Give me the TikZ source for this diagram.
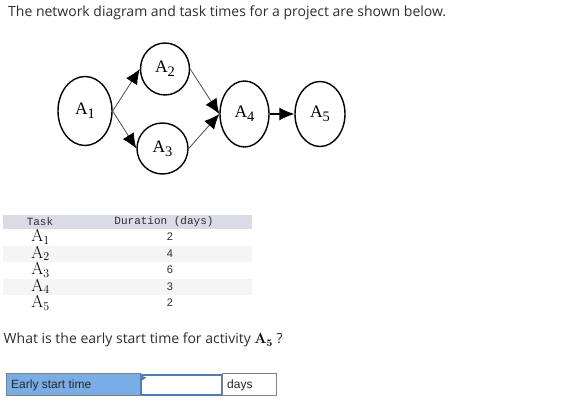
\documentclass[tikz,border=0pt]{standalone}
\usepackage[no-math]{fontspec}
\setmainfont{Open Sans}
\newfontfamily\monofont{Liberation Mono}
\newfontfamily\arialfont{Liberation Sans}
\newfontfamily\timesfont{Liberation Serif}
\usetikzlibrary{shapes.geometric,arrows.meta}
\definecolor{headgray}{HTML}{D9DCE6}
\definecolor{rowgray}{HTML}{F5F5F5}
\definecolor{cellblue}{HTML}{7AADE6}
\definecolor{inputblue}{HTML}{4F7DB5}
\definecolor{textgray}{HTML}{2D2D2D}
\newcommand{\actlabel}[1]{{\timesfont\fontsize{17.5}{17}\selectfont A\raisebox{-4pt}{\fontsize{14.5}{14}\selectfont #1}}}
\tikzset{
  activity/.style={ellipse, draw=black, line width=1.4pt, inner sep=0pt},
  link/.style={draw=black!70, line width=0.8pt, -{Latex[length=15pt,width=13pt,black]}},
  plain/.style={inner sep=0pt, text=textgray}
}

\begin{document}
\begin{tikzpicture}[x=1pt,y=-1pt]
            \useasboundingbox (0,0) rectangle (579,403);
            \node[plain, anchor=base west, font=\fontsize{14}{16}\selectfont] (title) at (8,17) {The network diagram and task times for a project are shown below.};
            % network
            \node[activity, minimum width=54pt, minimum height=69pt] (a1) at (85,111) {\actlabel{1}};
            \node[activity, minimum width=49pt, minimum height=52pt] (a2) at (165,69) {\actlabel{2}};
            \node[activity, minimum width=51pt, minimum height=51pt] (a3) at (162.5,148.5) {\actlabel{3}};
            \node[activity, minimum width=49pt, minimum height=66pt] (a4) at (244.5,114) {\actlabel{4}};
            \node[activity, minimum width=50pt, minimum height=65pt] (a5) at (320,114) {\actlabel{5}};
            \draw[link] (a1.east) -- (a2.west);
            \draw[link] (a1.east) -- (a3.west);
            \draw[link] (a2.east) -- (a4.west);
            \draw[link] (a3.east) -- (a4.west);
            \draw[link, draw=black, line width=1.2pt] (a4.east) -- (a5.west);
            % table
            \fill[headgray] (3,215) rectangle (252,229);
            \fill[rowgray] (3,246) rectangle (252,262);
            \fill[rowgray] (3,279) rectangle (252,295);
            \node[plain, font=\monofont\fontsize{11}{12}\selectfont] (taskhead) at (40,222) {Task};
            \node[plain, font=\monofont\fontsize{11}{12}\selectfont] (durhead) at (164,222) {Duration (days)};
            \foreach \i/\d/\y in {1/2/237, 2/4/253.5, 3/6/270, 4/3/286.5, 5/2/303} {
              \node[plain, text=black, font=\fontsize{18.5}{18}\selectfont] (task\i) at (40.5,\y) {$\mathrm{A}_{\i}$};
              \node[plain, font=\arialfont\fontsize{11}{12}\selectfont] (dur\i) at (170,\y) {\d};
            }
            % question
            \node[plain, anchor=base west, font=\fontsize{14}{16}\selectfont] (question) at (3.5,344) {What is the early start time for activity \textcolor{black}{$\mathbf{A}_{\mathbf{5}}$} ?};
            % answer row
            \draw[fill=cellblue, draw=black!50, line width=1pt] (6,374) rectangle (140,396);
            \draw[fill=white, draw=black!50, line width=1pt] (222,374) rectangle (276,396);
            \draw[fill=white, draw=inputblue, line width=1.5pt] (141,375) rectangle (221.5,395);
            \fill[inputblue] (142,376) -- (146.5,377.5) -- (142,380.5) -- cycle;
            \node[plain, anchor=west, text=black!85, font=\arialfont\fontsize{12}{14}\selectfont] (esttext) at (11,385) {Early start time};
            \node[plain, anchor=west, text=black!85, font=\arialfont\fontsize{12}{14}\selectfont] (daystext) at (227,385) {days};
\end{tikzpicture}
\end{document}
